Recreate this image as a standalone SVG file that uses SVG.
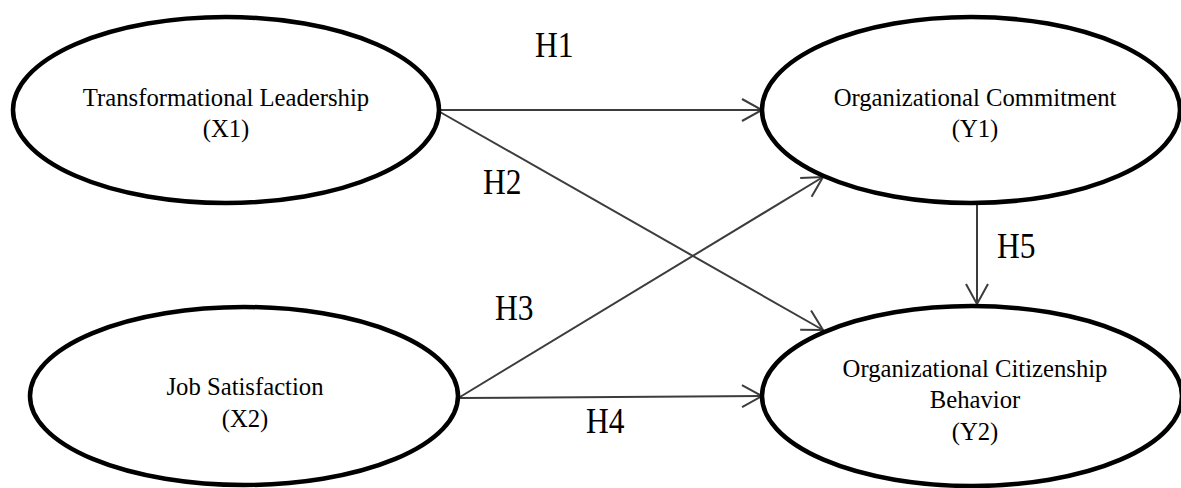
<svg xmlns="http://www.w3.org/2000/svg" width="1181" height="488" viewBox="0 0 1181 488">
<defs>
<style>
.node ellipse{fill:#fff;stroke:#000;stroke-width:4.5}
.node text{font-family:"Liberation Serif","Times New Roman",serif;font-size:24.7px;fill:#000;text-anchor:middle}
.conn line{stroke:#3c3c3c;stroke-width:2;marker-end:url(#arr)}
.lbl{font-family:"Liberation Serif","Times New Roman",serif;font-size:31.5px;fill:#000}
</style>
<marker id="arr" markerUnits="userSpaceOnUse" viewBox="-22 -13 24 26" markerWidth="24" markerHeight="26" refX="0" refY="0" orient="auto">
<path d="M-20,-11 L0,0 L-20,11" fill="none" stroke="#3c3c3c" stroke-width="2"/>
</marker>
</defs>
<rect width="1181" height="488" fill="#fff"/>
<g id="connectors" class="conn">
<line x1="440" y1="110" x2="762" y2="110"/>
<line x1="440" y1="112" x2="823" y2="330"/>
<line x1="460" y1="397" x2="823" y2="177"/>
<line x1="460" y1="398" x2="762" y2="396"/>
<line x1="977" y1="203" x2="977" y2="304"/>
</g>
<g id="X1" class="node">
<ellipse cx="226" cy="110" rx="213" ry="93"/>
<text x="226" y="106">Transformational Leadership</text>
<text x="226" y="137">(X1)</text>
</g>
<g id="X2" class="node">
<ellipse cx="244" cy="396" rx="214" ry="89"/>
<text x="245" y="395">Job Satisfaction</text>
<text x="245" y="427">(X2)</text>
</g>
<g id="Y1" class="node">
<ellipse cx="971" cy="110" rx="209" ry="93"/>
<text x="975" y="106">Organizational Commitment</text>
<text x="975" y="137">(Y1)</text>
</g>
<g id="Y2" class="node">
<ellipse cx="972" cy="396" rx="210" ry="90"/>
<text x="975" y="377">Organizational Citizenship</text>
<text x="975" y="408">Behavior</text>
<text x="975" y="440">(Y2)</text>
</g>
<g id="labels">
<text class="lbl" transform="translate(535,57) scale(1,1.14)">H1</text>
<text class="lbl" transform="translate(483,194) scale(1,1.14)">H2</text>
<text class="lbl" transform="translate(495,320) scale(1,1.14)">H3</text>
<text class="lbl" transform="translate(586,433) scale(1,1.14)">H4</text>
<text class="lbl" transform="translate(997,258) scale(1,1.14)">H5</text>
</g>
</svg>
